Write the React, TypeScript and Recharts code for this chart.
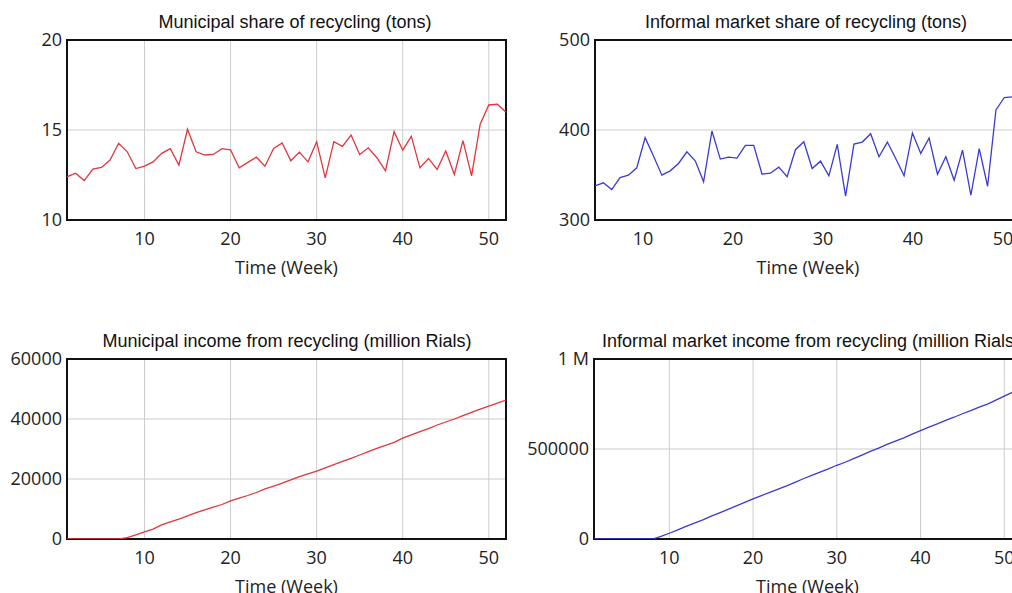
import { LineChart, Line, XAxis, YAxis, CartesianGrid, ReferenceArea } from 'recharts';

const weeks = [
  1, 2, 3, 4, 5, 6, 7, 8, 9, 10, 11, 12, 13, 14, 15, 16, 17, 18, 19, 20, 21, 22, 23, 24, 25, 26,
  27, 28, 29, 30, 31, 32, 33, 34, 35, 36, 37, 38, 39, 40, 41, 42, 43, 44, 45, 46, 47, 48, 49, 50, 51, 52,
];
const weekTicks = [10, 20, 30, 40, 50];

// tons per week
const municipalShare = [
  12.4, 12.6, 12.19, 12.83, 12.92, 13.33, 14.26, 13.79, 12.86, 12.99,
  13.23, 13.7, 13.96, 13.05, 15.04, 13.79, 13.61, 13.64, 13.96, 13.9,
  12.9, 13.2, 13.49, 12.99, 13.98, 14.28, 13.29, 13.77, 13.23, 14.35,
  12.34, 14.35, 14.09, 14.72, 13.64, 14.01, 13.46, 12.73, 14.91, 13.88,
  14.65, 12.9, 13.42, 12.81, 13.83, 12.53, 14.41, 12.45, 15.32, 16.39,
  16.43, 15.99,
];
const informalShare = [
  337.9, 341.3, 333.8, 347.2, 349.8, 358.0, 391.4, 371.0, 349.8, 354.6,
  362.8, 375.8, 365.8, 342.4, 398.9, 367.7, 369.9, 368.8, 382.9, 382.9,
  350.9, 352.0, 358.7, 348.0, 378.1, 387.0, 357.2, 365.4, 349.1, 384.0,
  326.4, 384.4, 386.6, 395.9, 370.3, 386.6, 368.4, 349.1, 396.7, 374.0,
  391.1, 350.9, 370.3, 344.2, 377.7, 327.5, 379.2, 337.5, 422.3, 436.1,
  436.8, 432.0,
];

// million Rials, cumulative
const municipalIncome = [
  0, 0, 0, 0, 0, 0, 0, 450, 1400, 2400,
  3300, 4700, 5700, 6600, 7700, 8800, 9700, 10600, 11500, 12700,
  13600, 14500, 15500, 16700, 17600, 18600, 19700, 20800, 21700, 22600,
  23700, 24800, 25900, 26900, 28000, 29100, 30200, 31200, 32200, 33600,
  34700, 35800, 36800, 38000, 39000, 40000, 41100, 42200, 43300, 44300,
  45300, 46300,
];
const informalIncome = [
  0, 0, 0, 0, 0, 0, 0, 0, 14000, 32000,
  50600, 69900, 88700, 106300, 126800, 145700, 164700, 183700, 203400, 223100,
  241100, 259200, 277600, 295500, 314900, 334800, 353200, 372000, 389900, 409600,
  426400, 446200, 466100, 486400, 505400, 525300, 544200, 562100, 582500, 601700,
  621800, 639800, 658800, 676500, 695900, 712700, 732200, 749500, 771200, 793600,
  816100, 838300,
];

const RED = '#e2363e';
const BLUE = '#3a3ad4';
const tickStyle = { fontFamily: '"Open Sans", sans-serif', fontSize: 18, fill: '#222' };

type PanelProps = {
  title: string;
  titleX: number;
  left: number;
  top: number;
  width: number;
  values: number[];
  color: string;
  yDomain: [number, number];
  yTicks: number[];
  yFormat?: (v: number) => string;
  labelDomain?: [number, number];
};

function Panel(p: PanelProps) {
  const rows = weeks.map((w, i) => ({ week: w, value: p.values[i] }));
  const axisTitle = {
    value: 'Time (Week)',
    position: 'insideBottom' as const,
    offset: 6,
    fill: '#222',
    fontSize: 18,
    fontFamily: '"Open Sans", sans-serif',
  };
  return (
    <>
      <div
        style={{
          position: 'absolute',
          left: p.titleX - 300,
          width: 600,
          top: p.top + 12,
          textAlign: 'center',
          fontFamily: '"Liberation Sans", Arial, sans-serif',
          fontSize: 18,
          lineHeight: '20px',
          color: '#111',
          whiteSpace: 'nowrap',
        }}
      >
        {p.title}
      </div>
      <div style={{ position: 'absolute', left: p.left, top: p.top }}>
        <LineChart width={p.width} height={300} data={rows} margin={{ top: 40, right: 14, bottom: 20, left: 1 }}>
          <CartesianGrid stroke="#cccccc" xAxisId="data" yAxisId="val" />
          <XAxis
            xAxisId="data"
            dataKey="week"
            type="number"
            domain={[1, 52]}
            ticks={weekTicks}
            interval={0}
            allowDataOverflow
            axisLine={false}
            tickLine={false}
            tickMargin={6}
            tick={p.labelDomain ? false : tickStyle}
            height={p.labelDomain ? 0 : 60}
            label={p.labelDomain ? undefined : axisTitle}
          />
          {p.labelDomain && (
            <XAxis
              xAxisId="lbl"
              dataKey="week"
              type="number"
              domain={p.labelDomain}
              ticks={weekTicks}
              interval={0}
              allowDataOverflow
              axisLine={false}
              tickLine={false}
              tickMargin={6}
              tick={tickStyle}
              height={60}
              label={axisTitle}
            />
          )}
          <YAxis
            yAxisId="val"
            type="number"
            domain={p.yDomain}
            ticks={p.yTicks}
            interval={0}
            allowDataOverflow
            width={66}
            axisLine={false}
            tickLine={false}
            tickSize={5}
            tickMargin={0}
            tick={tickStyle}
            tickFormatter={p.yFormat}
          />
          <ReferenceArea
            xAxisId="data"
            yAxisId="val"
            x1={1}
            x2={52}
            y1={p.yDomain[0]}
            y2={p.yDomain[1]}
            fill="none"
            fillOpacity={0}
            stroke="#111"
            strokeWidth={2}
            strokeOpacity={1}
          />
          <Line
            xAxisId="data"
            yAxisId="val"
            type="linear"
            dataKey="value"
            stroke={p.color}
            strokeWidth={1.3}
            dot={false}
            activeDot={false}
            isAnimationActive={false}
          />
        </LineChart>
      </div>
    </>
  );
}

export default function App() {
  return (
    <div
      style={{
        position: 'absolute',
        left: 0,
        top: 0,
        width: 1012,
        height: 593,
        overflow: 'hidden',
        background: '#fff',
      }}
    >
      <Panel
        title="Municipal share of recycling (tons)"
        titleX={295}
        left={0}
        top={0}
        width={520}
        values={municipalShare}
        color={RED}
        yDomain={[10, 20]}
        yTicks={[10, 15, 20]}
      />
      <Panel
        title="Informal market share of recycling (tons)"
        titleX={806}
        left={528}
        top={0}
        width={507}
        values={informalShare}
        color={BLUE}
        yDomain={[300, 500]}
        yTicks={[300, 400, 500]}
        labelDomain={[4.67, 52]}
      />
      <Panel
        title="Municipal income from recycling (million Rials)"
        titleX={287}
        left={0}
        top={319}
        width={520}
        values={municipalIncome}
        color={RED}
        yDomain={[0, 60000]}
        yTicks={[0, 20000, 40000, 60000]}
      />
      <Panel
        title="Informal market income from recycling (million Rials)"
        titleX={811}
        left={527}
        top={319}
        width={508}
        values={informalIncome}
        color={BLUE}
        yDomain={[0, 1000000]}
        yTicks={[0, 500000, 1000000]}
        yFormat={(v: number) => (v === 1000000 ? '1 M' : String(v))}
      />
    </div>
  );
}
